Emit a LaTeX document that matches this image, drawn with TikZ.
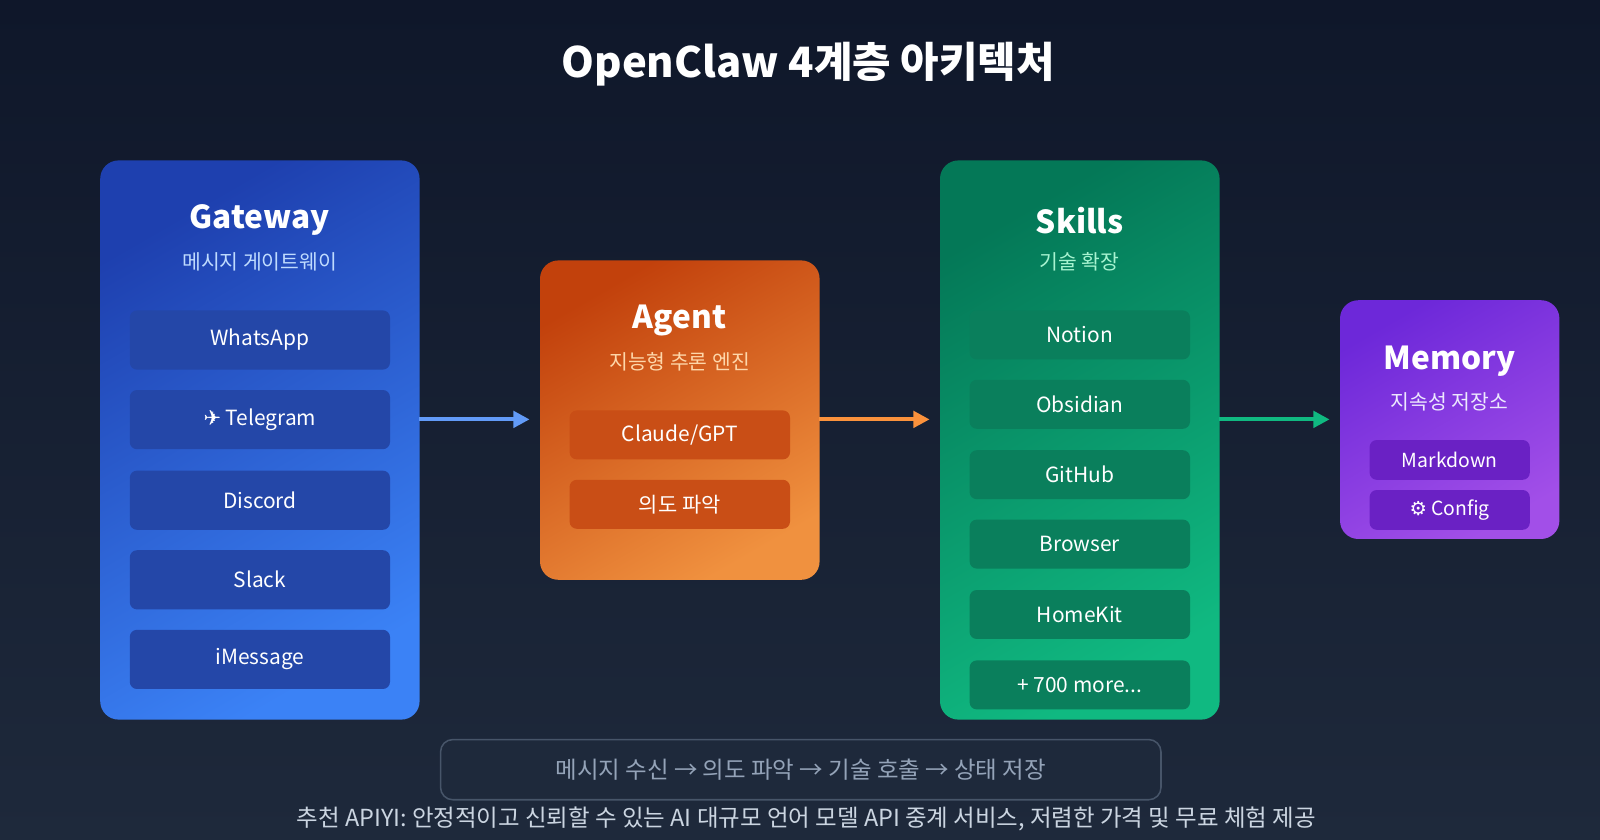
\documentclass[tikz,border=0pt]{standalone}
\usepackage{fontspec}
\setmainfont{Noto Sans CJK KR}
\newfontfamily\sym{DejaVu Sans}
\usetikzlibrary{arrows.meta}
\definecolor{bgA}{HTML}{0F172A}\definecolor{bgB}{HTML}{1E293B}
\definecolor{gwA}{HTML}{1E40AF}\definecolor{gwB}{HTML}{3B82F6}\definecolor{gwI}{HTML}{2447A8}\definecolor{gwS}{HTML}{BFDBFE}
\definecolor{agA}{HTML}{C2410C}\definecolor{agB}{HTML}{F0913F}\definecolor{agI}{HTML}{C94E16}\definecolor{agS}{HTML}{FED7AA}
\definecolor{skA}{HTML}{047857}\definecolor{skB}{HTML}{10B981}\definecolor{skI}{HTML}{0A7F5C}\definecolor{skS}{HTML}{A7F3D0}
\definecolor{mmA}{HTML}{6D28D9}\definecolor{mmB}{HTML}{A24FE8}\definecolor{mmI}{HTML}{6A21C4}\definecolor{mmS}{HTML}{EDE9FE}
\definecolor{flowF}{HTML}{1E293B}\definecolor{flowD}{HTML}{475569}\definecolor{flowT}{HTML}{94A3B8}\definecolor{footT}{HTML}{CBD5E1}
\begin{document}
\begin{tikzpicture}[x=1pt,y=-1pt,
  layer/.style={rounded corners=18pt,draw=none,anchor=north west,inner sep=0pt},
  ttl/.style={text=white,font=\bfseries\fontsize{31}{33}\selectfont},
  sub/.style={font=\fontsize{20}{22}\selectfont},
  item/.style={rounded corners=7pt,anchor=north west,inner sep=0pt,text=white,font=\fontsize{20.5}{22}\selectfont},
  arr/.style={line width=4pt,-{Triangle[length=16pt,width=16pt]},shorten >=10pt}]
\path[bottom color=bgB,top color=bgA] (0,0) rectangle (1568,823);
\useasboundingbox (0,0) rectangle (1568,823);
\node[text=white,font=\bfseries\fontsize{41}{44}\selectfont] (title) at (792,63) {OpenClaw 4계층 아키텍처};
% Gateway
\node[layer,minimum width=313pt,minimum height=548pt,top color=gwA,bottom color=gwB,shading angle=30] (gw) at (98,157) {};
\node[ttl] (gwt) at (254.5,216) {Gateway};
\node[sub,text=gwS] (gws) at (254.5,257) {메시지 게이트웨이};
\foreach \n/\y/\t in {1/304/{WhatsApp},2/382/{{\sym ✈} Telegram},3/461/{Discord},4/539/{Slack},5/617/{iMessage}}
  \node[item,fill=gwI,minimum width=255pt,minimum height=58pt] (gw\n) at (127,\y) {\raisebox{-2pt}{\t}};
% Agent
\node[layer,minimum width=274pt,minimum height=313pt,top color=agA,bottom color=agB,shading angle=30] (ag) at (529,255) {};
\node[ttl] (agt) at (666,314) {Agent};
\node[sub,text=agS] (ags) at (666,355) {지능형 추론 엔진};
\node[item,fill=agI,minimum width=216pt,minimum height=48pt] (ag1) at (558,402) {\raisebox{-2pt}{Claude/GPT}};
\node[item,fill=agI,minimum width=216pt,minimum height=48pt] (ag2) at (558,470) {\raisebox{-2pt}{의도 파악}};
% Skills
\node[layer,minimum width=274pt,minimum height=548pt,top color=skA,bottom color=skB,shading angle=30] (sk) at (921,157) {};
\node[ttl] (skt) at (1058,216) {Skills};
\node[sub,text=skS] (sks) at (1058,257) {기술 확장};
\foreach \n/\y/\t in {1/304/Notion,2/372/Obsidian,3/441/GitHub,4/509/Browser,5/578/HomeKit,6/647/{+ 700 more...}}
  \node[item,fill=skI,minimum width=216pt,minimum height=48pt] (sk\n) at (950,\y) {\raisebox{-2pt}{\t}};
% Memory
\node[layer,minimum width=215pt,minimum height=234pt,top color=mmA,bottom color=mmB,shading angle=30] (mm) at (1313,294) {};
\node[ttl] (mmt) at (1420.5,354) {Memory};
\node[sub,text=mmS] (mms) at (1420.5,394) {지속성 저장소};
\node[item,fill=mmI,minimum width=157pt,minimum height=39pt,font=\fontsize{19}{20}\selectfont] (mm1) at (1342,431) {\raisebox{-2pt}{Markdown}};
\node[item,fill=mmI,minimum width=157pt,minimum height=39pt,font=\fontsize{19}{20}\selectfont] (mm2) at (1342,480) {\raisebox{-2pt}{{\sym ⚙} Config}};
% arrows
\coordinate (a1) at (411,411);\coordinate (a2) at (803,411);\coordinate (a3) at (1195,411);
\draw[arr,color=gwB!80!white] (a1) -- (ag.west |- a1);
\draw[arr,color={rgb,255:red,251;green,146;blue,60}] (a2) -- (sk.west |- a2);
\draw[arr,color=skB] (a3) -- (mm.west |- a3);
% flow
\node[rounded corners=12pt,draw=flowD,line width=1.5pt,fill=flowF,anchor=north west,minimum width=706pt,minimum height=59pt,inner sep=0pt,text=flowT,font=\fontsize{23}{25}\selectfont] (flow) at (431,724) {메시지 수신 → 의도 파악 → 기술 호출 → 상태 저장};
\node[text=footT,font=\fontsize{23}{25}\selectfont] (foot) at (790,803) {추천 APIYI: 안정적이고 신뢰할 수 있는 AI 대규모 언어 모델 API 중계 서비스, 저렴한 가격 및 무료 체험 제공};
\end{tikzpicture}
\end{document}
